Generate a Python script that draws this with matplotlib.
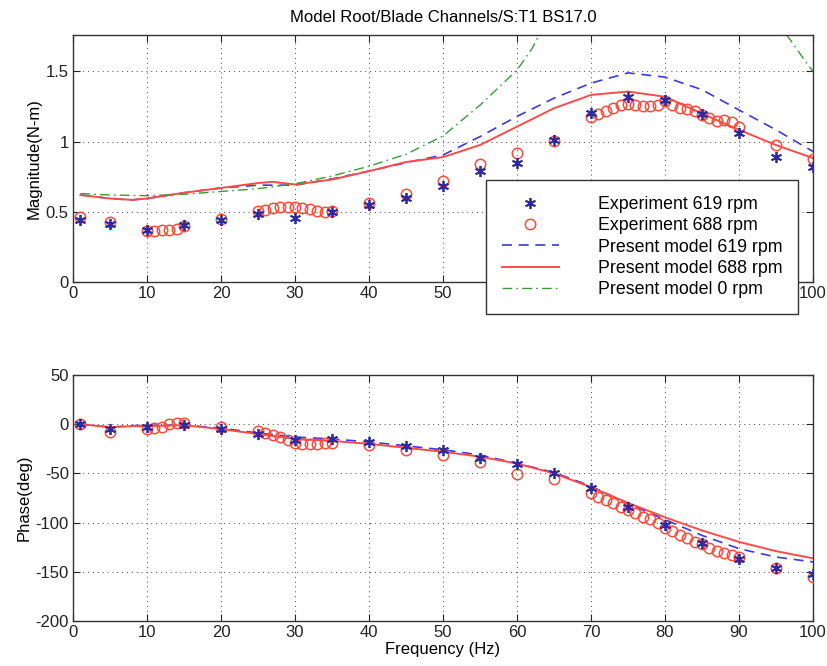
import matplotlib
matplotlib.use("Agg")
import matplotlib.pyplot as plt

plt.rcParams['font.family'] = ['Liberation Sans', 'DejaVu Sans']
plt.rcParams['axes.unicode_minus'] = False

# ---------------- data ----------------
f_star = [1, 5, 10, 15, 20, 25, 30, 35, 40, 45, 50, 55, 60, 65, 70, 75, 80, 85, 90, 95, 100]
mag_619 = [0.445, 0.41, 0.369, 0.405, 0.445, 0.488, 0.457, 0.50, 0.548, 0.595, 0.683,
           0.79, 0.845, 1.01, 1.207, 1.32, 1.30, 1.198, 1.06, 0.893, 0.82]
ph_619 = [0, -5, -2.4, -0.7, -5, -9.5, -16.3, -14.6, -18, -22, -26.5,
          -34.7, -40.4, -49.9, -65.2, -83.8, -102.4, -121, -137, -146.5, -152.2]

f_circ = [1, 5, 10, 11, 12, 13, 14, 15, 20, 25, 26, 27, 28, 29, 30, 31, 32, 33, 34, 35,
          40, 45, 50, 55, 60, 65, 70, 71, 72, 73, 74, 75, 76, 77, 78, 79, 80,
          81, 82, 83, 84, 85, 86, 87, 88, 89, 90, 95, 100]
mag_688 = [0.464, 0.43, 0.362, 0.362, 0.369, 0.374, 0.381, 0.398, 0.45, 0.505,
           0.512, 0.524, 0.531, 0.536, 0.531, 0.524, 0.517, 0.507, 0.50, 0.505,
           0.564, 0.626, 0.719, 0.838, 0.917, 1.007, 1.179, 1.20, 1.22, 1.24, 1.26,
           1.27, 1.26, 1.255, 1.255, 1.26, 1.293, 1.26, 1.24, 1.23, 1.22, 1.19,
           1.17, 1.15, 1.155, 1.14, 1.107, 0.976, 0.874]
ph_688 = [0, -7.8, -5, -3.4, -2.4, 0, 1, 1.3, -2.7, -6.8, -8.5, -10.8, -13.5, -16,
          -18.6, -20.3, -20.3, -20.3, -19.6, -18.6, -21, -26.4, -31, -38.1, -50.6,
          -56, -70.3, -73.7, -77.1, -80.5, -83.9, -87.2, -90.6, -94, -96.7, -100,
          -105.8, -109, -112.6, -116, -119.3, -122, -126, -129, -131, -133, -135.4,
          -146.5, -155]

f_mod = [1, 5, 8, 10, 15, 20, 25, 27, 30, 35, 40, 45, 50, 55, 60, 65, 70, 75, 80, 85, 90, 95, 100]
mod_mag_619 = [0.62, 0.595, 0.585, 0.595, 0.636, 0.67, 0.69, 0.69, 0.69, 0.735, 0.79, 0.85,
               0.905, 1.036, 1.18, 1.31, 1.417, 1.49, 1.46, 1.37, 1.226, 1.084, 0.93]
mod_mag_688 = [0.62, 0.595, 0.585, 0.595, 0.636, 0.67, 0.705, 0.714, 0.695, 0.73, 0.79, 0.855,
               0.89, 0.976, 1.107, 1.238, 1.333, 1.357, 1.32, 1.20, 1.084, 0.976, 0.883]
mod_ph_619 = [0, -3, -1.5, -1, -1, -4, -9, -10.5, -13, -15, -18, -22,
              -26, -31.3, -39.8, -49, -63, -80.8, -97, -113, -126.5, -135, -140]
mod_ph_688 = [0, -3, -2, -2, -1, -5, -10, -12, -15, -17, -20, -24,
              -28, -33, -40, -50, -64, -80, -94.6, -108, -119.6, -129, -136.3]

f_mod0 = [1, 5, 10, 15, 20, 25, 30, 35, 40, 45, 50, 55, 60, 62, 64, 66, 70, 80, 90, 95, 96, 97, 98, 99, 100]
mod_mag_0 = [0.63, 0.62, 0.615, 0.625, 0.645, 0.665, 0.70, 0.755, 0.825, 0.91, 1.04,
             1.26, 1.51, 1.66, 1.86, 2.1, 2.6, 3.0, 2.6, 1.9, 1.79, 1.72, 1.645, 1.57, 1.50]

x_ticks = list(range(0, 101, 10))
# top-panel tick labels that the legend box hides in the original
top_hidden = [60, 70, 80, 90]

# ---------------- styling ----------------
c_star = '#2c2ca0'
c_circ = '#ff4a3a'
c_blue = '#3a3ae0'
c_red = '#ff4a4a'
c_green = '#3a9a3a'
FS = 12

fig = plt.figure(figsize=(8.27, 6.66), dpi=100)
ax1 = fig.add_axes([73/827, 1-282/666, 740/827, 247/666])
ax2 = fig.add_axes([73/827, 1-621/666, 740/827, 246/666])

star_mk = (6, 2, 0)

ax1.plot(f_star, mag_619, linestyle='none', marker=star_mk, ms=8, mec=c_star, mew=1.3,
         color=c_star, label='Experiment 619 rpm', zorder=4)
ax1.plot(f_circ, mag_688, linestyle='none', marker='o', ms=7.5, mfc='none', mec=c_circ,
         mew=1.1, label='Experiment 688 rpm', zorder=3)
ax1.plot(f_mod, mod_mag_619, linestyle=(0, (6, 4)), color=c_blue, lw=1.2,
         label='Present model 619 rpm')
ax1.plot(f_mod, mod_mag_688, linestyle='-', color=c_red, lw=1.4,
         label='Present model 688 rpm')
ax1.plot(f_mod0, mod_mag_0, linestyle=(0, (7, 3, 1.2, 3)), color=c_green, lw=1.0,
         label='Present model 0 rpm')

ax2.plot(f_star, ph_619, linestyle='none', marker=star_mk, ms=8, mec=c_star, mew=1.3,
         color=c_star, zorder=4)
ax2.plot(f_circ, ph_688, linestyle='none', marker='o', ms=7.5, mfc='none', mec=c_circ,
         mew=1.1, zorder=3)
ax2.plot(f_mod, mod_ph_619, linestyle=(0, (6, 4)), color=c_blue, lw=1.2)
ax2.plot(f_mod, mod_ph_688, linestyle='-', color=c_red, lw=1.4)

ax1.set_xlim(0, 100)
ax1.set_ylim(0, 1.76)
ax1.set_xticks(x_ticks)
ax1.set_xticklabels(['' if t in top_hidden else str(t) for t in x_ticks])
ax1.set_yticks([0, 0.5, 1, 1.5])
ax1.set_yticklabels(['0', '0.5', '1', '1.5'])

ax2.set_xlim(0, 100)
ax2.set_ylim(-200, 50)
ax2.set_xticks(x_ticks)
ax2.set_yticks(range(-200, 51, 50))

for ax in (ax1, ax2):
    ax.grid(True, linestyle=(0, (1, 4)), color='#444444', lw=0.7)
    ax.tick_params(direction='in', top=True, right=True, labelsize=FS, length=5,
                   width=0.8, pad=3, colors='#222222')
    for s in ax.spines.values():
        s.set_color('#333333')
        s.set_linewidth(1.0)

ax1.set_ylabel('Magnitude(N-m)', fontsize=FS, labelpad=3)
ax2.set_ylabel('Phase(deg)', fontsize=FS, labelpad=3)
ax2.set_xlabel('Frequency (Hz)', fontsize=FS, labelpad=1)
ax1.set_title('Model Root/Blade Channels/S:T1 BS17.0', fontsize=FS, pad=9)

leg = ax1.legend(loc='upper left', bbox_to_anchor=(0.558, 0.413), fontsize=12.8,
                 frameon=True, fancybox=False, edgecolor='#333333', framealpha=1,
                 handlelength=3.2, handletextpad=2.2, labelspacing=0.24, borderpad=0.9,
                 borderaxespad=0)
leg.get_frame().set_linewidth(1.0)

fig.savefig('out.png', dpi=100)
